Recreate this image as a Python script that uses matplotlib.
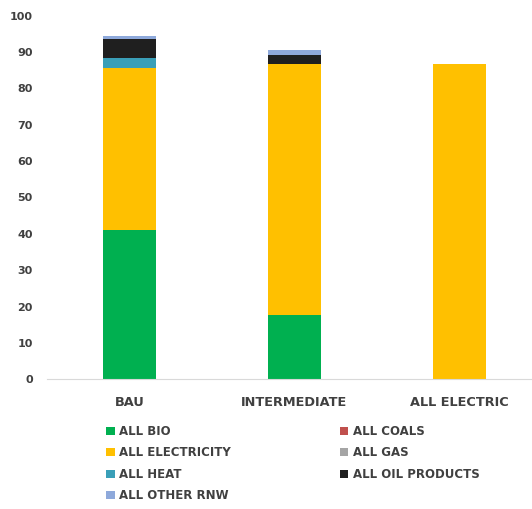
import matplotlib.pyplot as plt
import numpy as np

plt.rcParams['font.family'] = 'DejaVu Sans'

scenarios = ['BAU', 'INTERMEDIATE', 'ALL ELECTRIC']

all_bio = [41.0, 17.6, 0.0]
all_coals = [0.0, 0.0, 0.0]
all_electricity = [44.5, 69.2, 86.8]
all_gas = [0.0, 0.0, 0.0]
all_heat = [2.8, 0.0, 0.0]
all_oil = [5.2, 2.5, 0.0]
all_other_rnw = [1.0, 1.3, 0.0]

series = [
    ('ALL BIO', all_bio, '#00b050'),
    ('ALL COALS', all_coals, '#c0504d'),
    ('ALL ELECTRICITY', all_electricity, '#ffc000'),
    ('ALL GAS', all_gas, '#a5a5a5'),
    ('ALL HEAT', all_heat, '#3a9fb8'),
    ('ALL OIL PRODUCTS', all_oil, '#1f1f1f'),
    ('ALL OTHER RNW', all_other_rnw, '#8ea9db'),
]

fig = plt.figure(figsize=(5.32, 5.09), dpi=100)
ax = fig.add_axes([0.088, 0.255, 0.93, 0.714])

x = np.arange(len(scenarios))
bottom = np.zeros(len(scenarios))
handles = {}
for name, vals, color in series:
    b = ax.bar(x, vals, 0.32, bottom=bottom, color=color, label=name)
    handles[name] = b
    bottom += np.array(vals)

ax.set_ylim(0, 100)
ax.set_yticks(range(0, 101, 10))
ax.set_xlim(-0.5, 2.5)
ax.set_xticks(x)
ax.set_xticklabels(scenarios, fontweight='bold', color='#404040', fontsize=9.3)
ax.tick_params(axis='y', length=0, labelsize=8, labelcolor='#404040', pad=10)
ax.tick_params(axis='x', length=0, pad=12)
for lab in ax.get_yticklabels():
    lab.set_fontweight('bold')
for s in ['top', 'right', 'left']:
    ax.spines[s].set_visible(False)
ax.spines['bottom'].set_color('#d9d9d9')

order = ['ALL BIO', 'ALL ELECTRICITY', 'ALL HEAT', 'ALL OTHER RNW',
         'ALL COALS', 'ALL GAS', 'ALL OIL PRODUCTS']
leg = fig.legend([handles[n] for n in order], order, loc='upper left',
                 bbox_to_anchor=(0.18, 0.186), ncol=2, frameon=False,
                 fontsize=8.5, handlelength=0.7, handleheight=0.7,
                 handletextpad=0.4, columnspacing=9.2, labelspacing=0.72)
for t in leg.get_texts():
    t.set_fontweight('bold')
    t.set_color('#404040')

plt.savefig('out.png', dpi=100)
